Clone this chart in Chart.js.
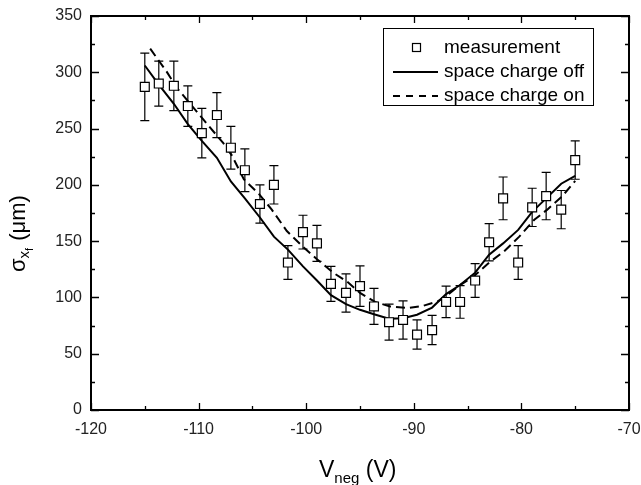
<!DOCTYPE html>
<html>
<head>
<meta charset="utf-8">
<script src="https://cdn.jsdelivr.net/npm/chart.js@4"></script>
<style>
  html, body { margin: 0; padding: 0; background: #fff; }
  #wrap { width: 641px; height: 485px; }
</style>
</head>
<body>
<div id="wrap"><canvas id="plot"></canvas></div>
<script>
/*------------------------------------------ dados ----------------------------------------------*/
const measX = [-115, -113.7, -112.3, -111, -109.7, -108.3, -107, -105.7, -104.3, -103, -101.7, -100.3, -99, -97.7, -96.3, -95,
  -93.7, -92.3, -91, -89.7, -88.3, -87, -85.7, -84.3, -83, -81.7, -80.3, -79, -77.7, -76.3, -75];
const measY = [287, 290, 288, 270, 246, 262, 233, 213, 183, 200, 131, 158, 148, 112, 104, 110,
  92, 78, 80, 67, 71, 96, 96, 115, 149, 188, 131, 180, 190, 178, 222];
const measErr = [30, 20, 22, 18, 22, 20, 19, 19, 17, 17, 15, 15, 16, 15.5, 17, 18,
  16, 16, 17, 13, 13, 14, 14.5, 15, 16.5, 19, 15, 17, 21, 17, 17];

const offX = [-115, -113.7, -112.3, -111, -109.7, -108.3, -107, -105.7, -104.3, -103, -101.7, -100.3, -99, -97.7, -96.3, -95,
  -93.7, -92.3, -91, -89.7, -88.3, -87, -85.7, -84.3, -83, -81.7, -80.3, -79, -77.7, -76.3, -75];
const offY = [306, 289, 272, 254, 239, 224, 203, 188, 171, 154, 142.5, 127.6, 115, 102, 94, 89,
  85, 81, 81.5, 84.6, 91, 103, 111, 122, 138, 148, 160, 176, 188, 201, 208];

const onX = [-114.5, -113, -112, -110.6, -109.2, -107.7, -106.9, -105.8, -104.4, -103.2, -101.8, -100.3, -99, -97.5, -96.2, -95,
  -93.6, -92.2, -90.6, -89.1, -87.8, -86.9, -85.7, -84.4, -83, -81.6, -80.2, -78.8, -77.6, -76.2, -75];
const onY = [321, 301, 286, 270, 254, 237, 226, 205, 192, 178, 159, 145, 134, 122, 114, 104,
  96, 92, 90.6, 92.6, 96.4, 102, 111, 119, 131, 141, 154, 169, 178, 190, 203.5];

const xTicks = [-120, -110, -100, -90, -80, -70];
const yTicks = [0, 50, 100, 150, 200, 250, 300, 350];

const legendLabels = ['measurement', 'space charge off', 'space charge on'];

function pts(xs, ys) { return xs.map((x, i) => ({ x: x, y: ys[i] })); }

/*------------------------------------------ plugins ----------------------------------------------*/
const errorBars = {
  id: 'errorBars',
  beforeDatasetsDraw(chart) {
    const c = chart.ctx, xs = chart.scales.x, ys = chart.scales.y;
    c.save();
    c.strokeStyle = '#000';
    c.lineWidth = 1.2;
    measX.forEach((x, i) => {
      const px = xs.getPixelForValue(x);
      const top = ys.getPixelForValue(measY[i] + measErr[i]);
      const bot = ys.getPixelForValue(measY[i] - measErr[i]);
      c.beginPath();
      c.moveTo(px, top); c.lineTo(px, bot);
      c.moveTo(px - 4.5, top); c.lineTo(px + 4.5, top);
      c.moveTo(px - 4.5, bot); c.lineTo(px + 4.5, bot);
      c.stroke();
    });
    c.restore();
  }
};

const frame = {
  id: 'frame',
  afterDraw(chart) {
    const c = chart.ctx, a = chart.chartArea, xs = chart.scales.x, ys = chart.scales.y;
    c.save();
    c.strokeStyle = '#000';
    c.lineWidth = 2;
    c.strokeRect(a.left, a.top, a.right - a.left, a.bottom - a.top);
    c.lineWidth = 1.3;
    c.beginPath();
    for (let v = -120; v <= -70; v += 5) {
      const px = Math.round(xs.getPixelForValue(v)) + 0.5;
      const len = v % 10 === 0 ? 7 : 4;
      c.moveTo(px, a.bottom); c.lineTo(px, a.bottom - len);
      c.moveTo(px, a.top); c.lineTo(px, a.top + len);
    }
    for (let v = 0; v <= 350; v += 25) {
      const py = Math.round(ys.getPixelForValue(v)) + 0.5;
      const len = v % 50 === 0 ? 8 : 4;
      c.moveTo(a.left, py); c.lineTo(a.left + len, py);
      c.moveTo(a.right, py); c.lineTo(a.right - len, py);
    }
    c.stroke();

    // legenda
    c.lineWidth = 1;
    c.strokeRect(383.5, 28.5, 210, 77);
    c.fillStyle = '#000';
    c.font = '19px Arial, "Liberation Sans"';
    c.textBaseline = 'middle';
    const rows = [48, 72, 96];
    legendLabels.forEach((t, i) => c.fillText(t, 444, rows[i]));
    c.lineWidth = 1.2;
    c.strokeRect(412.5, 43.5, 8, 8);
    c.lineWidth = 2;
    c.beginPath(); c.moveTo(393, 72); c.lineTo(438, 72); c.stroke();
    c.setLineDash([7, 6]);
    c.beginPath(); c.moveTo(393, 96); c.lineTo(438, 96); c.stroke();
    c.setLineDash([]);

    // título do eixo x
    c.textBaseline = 'alphabetic';
    let x = 319;
    c.font = '23px Arial, "Liberation Sans"';
    c.fillText('V', x, 477); x += c.measureText('V').width;
    c.font = '15px Arial, "Liberation Sans"';
    c.fillText('neg', x, 483); x += c.measureText('neg').width;
    c.font = '23px Arial, "Liberation Sans"';
    c.fillText(' (V)', x, 477);

    // título do eixo y
    c.translate(25, 272);
    c.rotate(-Math.PI / 2);
    let y = 0;
    c.font = '22px Arial, "Liberation Sans"';
    c.fillText('σ', y, 0); y += c.measureText('σ').width;
    c.font = '15px Arial, "Liberation Sans"';
    c.fillText('x', y, 4); y += c.measureText('x').width;
    c.font = '11px Arial, "Liberation Sans"';
    c.fillText('f', y, 8); y += c.measureText('f').width + 1;
    c.font = '22px Arial, "Liberation Sans"';
    c.fillText(' (μm)', y, 0);
    c.restore();
  }
};

/*------------------------------------------ gráfico ----------------------------------------------*/
let ctx = document.getElementById('plot').getContext('2d');
let grafico = new Chart(ctx, {
  type: 'scatter',
  data: {
    datasets: [{
      label: legendLabels[0],
      data: pts(measX, measY),
      pointStyle: 'rect',
      pointRadius: 6.3,
      pointBackgroundColor: '#fff',
      pointBorderColor: '#000',
      pointBorderWidth: 1.2,
      showLine: false
    }, {
      label: legendLabels[1],
      data: pts(offX, offY),
      showLine: true,
      borderColor: '#000',
      borderWidth: 2,
      pointRadius: 0,
      tension: 0
    }, {
      label: legendLabels[2],
      data: pts(onX, onY),
      showLine: true,
      borderColor: '#000',
      borderWidth: 2,
      borderDash: [9, 5],
      pointRadius: 0,
      tension: 0
    }]
  },
  options: {
    responsive: true,
    maintainAspectRatio: false,
    animation: false,
    devicePixelRatio: 1,
    layout: { padding: { top: 16, right: 12, left: 0, bottom: 0 } },
    plugins: { legend: { display: false }, tooltip: { enabled: false } },
    scales: {
      x: {
        type: 'linear',
        min: -120, max: -70,
        afterFit(s) { s.height = 75; s.paddingLeft = 0; s.paddingRight = 0; },
        afterBuildTicks(s) { s.ticks = xTicks.map(v => ({ value: v })); },
        grid: { display: false, drawTicks: false },
        border: { display: false },
        ticks: { padding: 10, color: '#222', font: { family: 'Arial, "Liberation Sans"', size: 16 }, maxRotation: 0 }
      },
      y: {
        type: 'linear',
        min: 0, max: 350,
        afterFit(s) { s.width = 91; s.paddingTop = 0; s.paddingBottom = 0; },
        afterBuildTicks(s) { s.ticks = yTicks.map(v => ({ value: v })); },
        grid: { display: false, drawTicks: false },
        border: { display: false },
        ticks: { padding: 9, color: '#222', font: { family: 'Arial, "Liberation Sans"', size: 16 } }
      }
    }
  },
  plugins: [errorBars, frame]
});
</script>
</body>
</html>
